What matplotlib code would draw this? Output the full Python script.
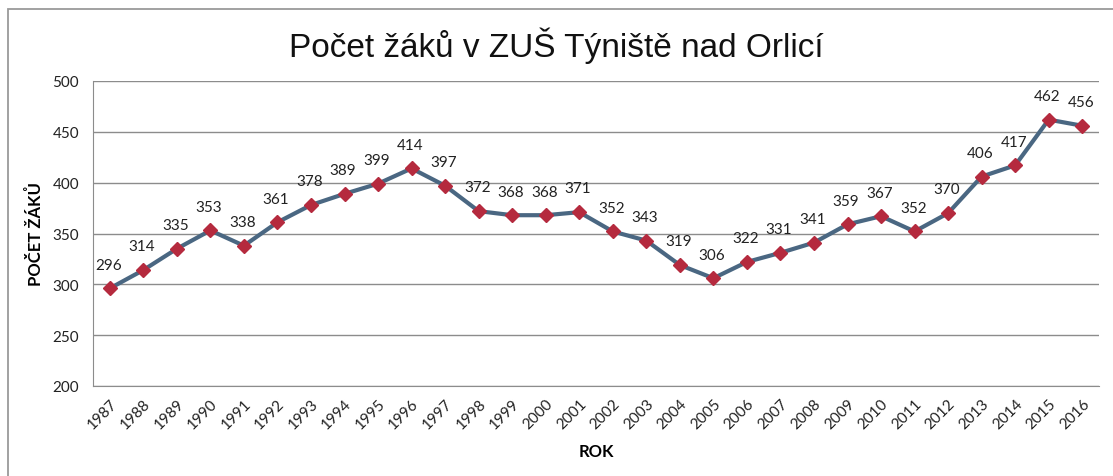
import matplotlib.pyplot as plt
from matplotlib.patches import Rectangle

# Data
roky = [str(r) for r in range(1987, 2017)]
zaci = [296, 314, 335, 353, 338, 361, 378, 389, 399, 414,
        397, 372, 368, 368, 371, 352, 343, 319, 306, 322,
        331, 341, 359, 367, 352, 370, 406, 417, 462, 456]
y_ticks = [200, 250, 300, 350, 400, 450, 500]

plt.rcParams['font.family'] = ['Lato', 'DejaVu Sans']

fig = plt.figure(figsize=(11.13, 4.77), dpi=100)
ax = fig.add_axes([93 / 1113, 1 - 387 / 477, (1099 - 93) / 1113, (387 - 82) / 477])

# outer chart border
fig.patches.append(Rectangle((8 / 1113, -0.1), 1.2, 1 - 10 / 477 + 0.1,
                             transform=fig.transFigure, fill=False,
                             edgecolor='#9a9a9a', linewidth=1.3))

x = range(len(roky))
ax.plot(x, zaci, color='#4a6782', linewidth=3, zorder=3)
ax.plot(x, zaci, linestyle='none', marker='D', markersize=7,
        color='#b52a3e', zorder=4)

for i, v in enumerate(zaci):
    ax.annotate(str(v), (i, v), xytext=(-1, 12), textcoords='offset points',
                ha='center', va='bottom', fontsize=11, color='#222222')

ax.set_xlim(-0.5, len(roky) - 0.5)
ax.set_ylim(200, 500)
ax.set_yticks(y_ticks)
ax.set_xticks(list(x))
ax.set_xticklabels(roky, rotation=45, ha='right', rotation_mode='anchor')
ax.tick_params(axis='both', length=0, labelsize=11, colors='#222222', pad=10)
ax.tick_params(axis='x', pad=7)
ax.grid(axis='y', color='#8c8c8c', linewidth=1)
ax.set_axisbelow(True)
for s in ['top', 'right']:
    ax.spines[s].set_visible(False)
ax.spines['left'].set_color('#8c8c8c')
ax.spines['bottom'].set_color('#8c8c8c')

ax.set_ylabel('POČET ŽÁKŮ', fontsize=12, fontweight='bold', labelpad=6)
ax.set_xlabel('ROK', fontsize=12, fontweight='bold', labelpad=9)
fig.text(556 / 1113, 1 - 46 / 477, 'Počet žáků v ZUŠ Týniště nad Orlicí',
         ha='center', va='center', fontsize=24, family='Liberation Sans',
         color='#111111')

fig.savefig('out.png', dpi=100)
